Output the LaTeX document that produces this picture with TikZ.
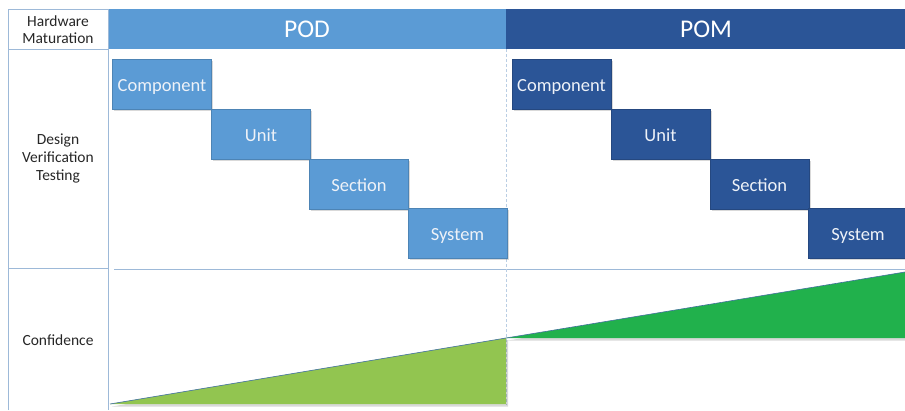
\documentclass[tikz,border=0pt]{standalone}
\usepackage{fontspec}
\setmainfont{Carlito}
\usetikzlibrary{shadows}
\definecolor{podblue}{HTML}{5B9BD5}
\definecolor{pomblue}{HTML}{2B5597}
\definecolor{gridline}{HTML}{9DB9D8}
\definecolor{podgreen}{HTML}{92C550}
\definecolor{pomgreen}{HTML}{21B14C}
\definecolor{edgeblue}{HTML}{41719C}
\definecolor{boxtext}{HTML}{EEF2F8}
\tikzset{
  stepbox/.style={rectangle, minimum width=99pt, minimum height=50pt, inner sep=0pt,
    text height=15pt, text depth=0pt,
    font=\fontsize{18.5}{22}\selectfont, text=boxtext,
    drop shadow={shadow xshift=1.5pt, shadow yshift=-1.5pt, opacity=0.3}},
  podbox/.style={stepbox, fill=podblue, draw=podblue!85!black, line width=0.4pt},
  pombox/.style={stepbox, fill=pomblue, draw=pomblue!85!black, line width=0.4pt},
  header/.style={rectangle, inner sep=0pt, font=\fontsize{25.5}{30}\selectfont, text=white},
  rowlabel/.style={align=center, font=\fontsize{15.5}{18}\selectfont, text=black!85},
  frame/.style={draw=gridline, line width=0.9pt},
}
\begin{document}
\begin{tikzpicture}[x=1pt,y=-1pt]
\useasboundingbox (0,0) rectangle (905,410);
% headers
\fill[podblue] (108,9) rectangle (506,49);
\fill[pomblue] (506,9) rectangle (905,49);
\node[header] (pod) at (307,29) {POD};
\node[header] (pom) at (706,29) {POM};
% left column frame
\draw[frame] (8,410) -- (8,9) -- (108,9);
\draw[frame] (108,9) -- (108,410);
\draw[frame] (8,49) -- (108,49);
\draw[frame] (8,268) -- (108,268);
\draw[draw=gridline, line width=0.6pt] (114,269) -- (905,269);
% dashed divider
\draw[draw=gridline!70, line width=0.7pt, dash pattern=on 3pt off 2pt] (506,49) -- (506,405);
% row labels
\node[rowlabel] (hm) at (58,29.5) {Hardware\\[-0.5pt]Maturation};
\node[rowlabel] (dvt) at (58,158) {Design\\Verification\\Testing};
\node[rowlabel] (conf) at (58,340) {Confidence};
% POD boxes
\node[podbox] (c1) at (162,84) {Component};
\node[podbox] (u1) at (261,134) {Unit};
\node[podbox] (s1) at (359,184) {Section};
\node[podbox] (y1) at (457.5,233) {System};
% POM boxes
\node[pombox] (c2) at (561.5,84) {Component};
\node[pombox] (u2) at (660.5,134) {Unit};
\node[pombox] (s2) at (759.5,184) {Section};
\node[pombox] (y2) at (858,233) {System};
% confidence wedges
\fill[black, opacity=0.15] (112,406.5) -- (508,406.5) -- (508,340) -- cycle;
\fill[podgreen] (110,404) -- (506,338) -- (506,404) -- cycle;
\draw[edgeblue, line width=0.6pt] (110,404) -- (506,338);
\fill[black, opacity=0.15] (508,340.5) -- (905,274) -- (905,340.5) -- cycle;
\fill[pomgreen] (506,338) -- (905,272) -- (905,338) -- cycle;
\draw[edgeblue, line width=0.6pt] (506,338) -- (905,272);
\end{tikzpicture}
\end{document}
